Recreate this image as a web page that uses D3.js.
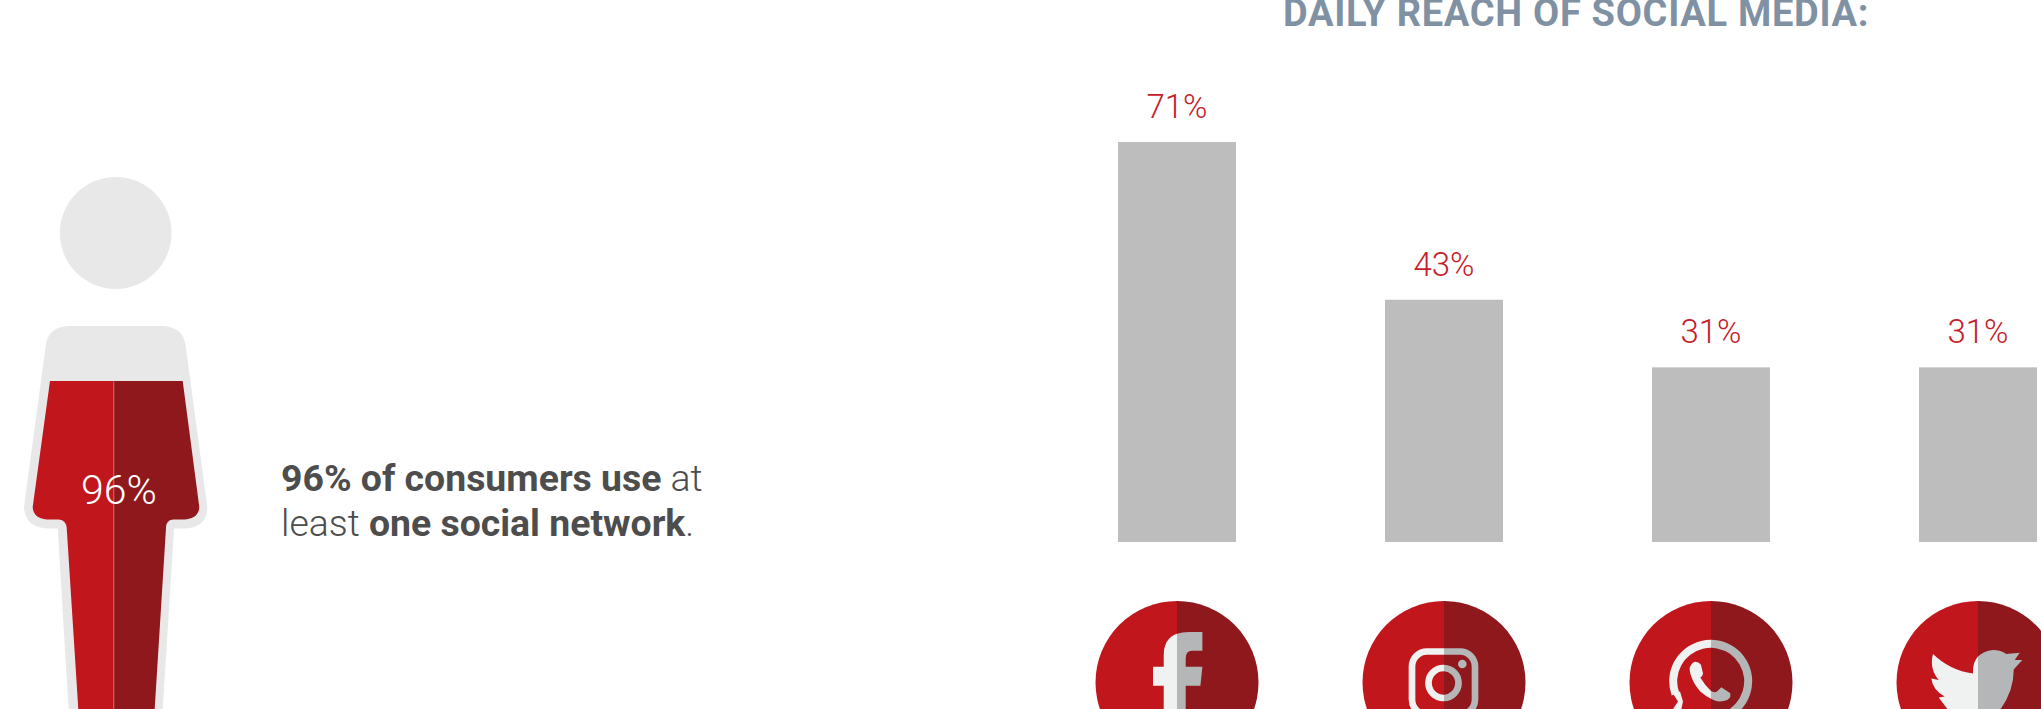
<!DOCTYPE html>
<html>
<head>
<meta charset="utf-8">
<script src="https://cdn.jsdelivr.net/npm/d3@7"></script>
<style>
  html, body { margin: 0; padding: 0; background: #fff; overflow: hidden; }
  text { font-family: Roboto, sans-serif; }
</style>
</head>
<body>
<script>
// Daily reach of social media, with the overall share of network users.
const networks = ["Facebook", "Instagram", "WhatsApp", "Twitter"];
const reach = [71, 43, 31, 31];
const tickLabels = ["71%", "43%", "31%", "31%"];
const usersShare = 96;

const RED = "#c1161c", DARK_RED = "#8f181c", BODY_GREY = "#e8e8e8", BAR_GREY = "#bdbdbd";
const ICON_LIGHT = "#f0f2f1", ICON_SHADE = "#b4b6b7";

const svg = d3.select("body").append("svg")
  .attr("width", 2041).attr("height", 709)
  .style("display", "block");

const x = d3.scalePoint().domain(networks).range([1177, 1978]);
const y = d3.scaleLinear().domain([0, 71]).range([542, 142]);
const BAR_WIDTH = 118;

svg.append("text")
  .attr("x", 1283).attr("y", 26)
  .attr("font-size", 38).attr("font-weight", 700)
  .attr("letter-spacing", 0.7)
  .attr("fill", "#7f91a3")
  .text("DAILY REACH OF SOCIAL MEDIA:");

svg.selectAll("rect.bar").data(networks).join("rect")
  .attr("class", "bar")
  .attr("x", d => x(d) - BAR_WIDTH / 2)
  .attr("width", BAR_WIDTH)
  .attr("y", (d, i) => y(reach[i]))
  .attr("height", (d, i) => y(0) - y(reach[i]))
  .attr("fill", BAR_GREY);

svg.selectAll("text.value").data(networks).join("text")
  .attr("class", "value")
  .attr("x", d => x(d))
  .attr("y", (d, i) => y(reach[i]) - 24)
  .attr("text-anchor", "middle")
  .attr("font-size", 33).attr("font-weight", 300)
  .attr("fill", "#c5202a")
  .text((d, i) => tickLabels[i]);

// Network badges: split disc with a two-tone glyph on top.
const ringArc = d3.arc()
  .innerRadius(33.5).outerRadius(41.5)
  .startAngle(-110 * Math.PI / 180).endAngle(Math.PI);

const glyphs = {
  Facebook: g => g.append("path").attr("d",
    "M-13.3,60V3.2H-24V-15.8H-13.3V-27Q-13.3,-50.5 12,-50.5H25.4V-31.8H15Q8.7,-31.8 8.7,-24V-15.8H25.4L23.4,3.2H8.7V60Z"),
  Instagram: g => {
    g.append("rect").attr("x", -32).attr("y", -31).attr("width", 63).attr("height", 63).attr("rx", 15)
      .attr("fill", "none").attr("stroke", "currentColor").attr("stroke-width", 6.7);
    g.append("circle").attr("cx", -0.5).attr("cy", 0.5).attr("r", 15)
      .attr("fill", "none").attr("stroke", "currentColor").attr("stroke-width", 6.7);
    g.append("circle").attr("cx", 18.3).attr("cy", -18.5).attr("r", 4.3);
  },
  WhatsApp: g => {
    g.append("path").attr("transform", "translate(-0.3,-1.2)").attr("d", ringArc());
    g.append("path").attr("d", "M-38,11L-33,19L-39,28H-30L-28,19L-31,9Z");
    g.append("path").attr("d",
      "M-15.7,-20.8Q-11,-20 -10,-17.5L-8,-9Q-8,-7 -10.7,-5Q-6,3 0,8.5Q3,10.5 6,9L10.3,4.8L19.3,10.8V14.2Q17,18 12.7,18.5Q8,19.5 4.3,18.2Q-4,15 -10.7,9Q-18,1 -20.7,-9Q-22,-15 -20.7,-16Q-19,-20 -15.7,-20.8Z");
  },
  Twitter: g => g.append("path").attr("d",
    "M-45,-28.5Q-28,-12 -5,-9Q-6,-30 15,-32.5Q23,-32.5 28.3,-28.5L41.7,-29.8L36.7,-22.5L44.3,-22.5L35.7,-13Q36,10 20,30H-28L-39.3,15L-33.3,14Q-45,8 -46.7,-4L-39.3,-2.5Q-49,-14 -45,-28.5Z")
};

const defs = svg.append("defs");
defs.append("clipPath").attr("id", "left-half").append("rect")
  .attr("x", -100).attr("y", -100).attr("width", 100).attr("height", 200);
defs.append("clipPath").attr("id", "right-half").append("rect")
  .attr("x", 0).attr("y", -100).attr("width", 100).attr("height", 200);

const badges = svg.selectAll("g.badge").data(networks).join("g")
  .attr("class", "badge")
  .attr("transform", d => `translate(${x(d)},682.5)`);
[["left-half", RED, ICON_LIGHT], ["right-half", DARK_RED, ICON_SHADE]].forEach(([clip, disc, ink]) => {
  badges.each(function (d) {
    const half = d3.select(this).append("g").attr("clip-path", `url(#${clip})`);
    half.append("circle").attr("r", 81.5).attr("fill", disc);
    const glyph = half.append("g").attr("fill", ink).attr("color", ink);
    glyphs[d](glyph);
  });
});

// Person figure, filled up to the share of network users.
const OUTER = "M68,326H163.3Q183,327 185.7,346L207.3,507Q207,527 186,528.5H174L162,720H69.3L57.7,528.5H46.7Q25,527 24,507L45.7,346Q48,327 68,326Z";
const INNER = "M58.4,320H174.3L182.7,381L199.3,507Q199,518 185,519.4H173Q166,520 166,528L154,720H79L66.7,528Q66,520 59,519.4H46.7Q33,518 32.7,507L50,381Z";
const level = d3.scaleLinear().domain([0, 100]).range([1701, 326]);

svg.append("ellipse").attr("cx", 115.7).attr("cy", 233).attr("rx", 55.8).attr("ry", 56).attr("fill", BODY_GREY);
svg.append("path").attr("d", OUTER).attr("fill", BODY_GREY);

defs.append("clipPath").attr("id", "fill-left").append("rect")
  .attr("x", 0).attr("y", level(usersShare)).attr("width", 113.5).attr("height", 400);
defs.append("clipPath").attr("id", "fill-right").append("rect")
  .attr("x", 113.5).attr("y", level(usersShare)).attr("width", 120).attr("height", 400);
svg.append("path").attr("d", INNER).attr("fill", RED).attr("clip-path", "url(#fill-left)");
svg.append("path").attr("d", INNER).attr("fill", DARK_RED).attr("clip-path", "url(#fill-right)");
svg.append("line")
  .attr("x1", 114).attr("x2", 114).attr("y1", level(usersShare) + 1).attr("y2", 709)
  .attr("stroke", "#fff").attr("stroke-opacity", 0.22).attr("stroke-width", 1);

svg.append("text")
  .attr("x", 119).attr("y", 504)
  .attr("text-anchor", "middle")
  .attr("font-size", 41).attr("font-weight", 300)
  .attr("fill", "#fff")
  .text(usersShare + "%");

const para = svg.append("text").attr("font-size", 37.4).attr("fill", "#4d4d4d");
const line1 = para.append("tspan").attr("x", 281).attr("y", 490.5);
line1.append("tspan").attr("font-weight", 700).text("96% of consumers use");
line1.append("tspan").attr("font-weight", 300).text(" at");
const line2 = para.append("tspan").attr("x", 281).attr("y", 536);
line2.append("tspan").attr("font-weight", 300).text("least ");
line2.append("tspan").attr("font-weight", 700).text("one social network");
line2.append("tspan").attr("font-weight", 300).text(".");
</script>
</body>
</html>
